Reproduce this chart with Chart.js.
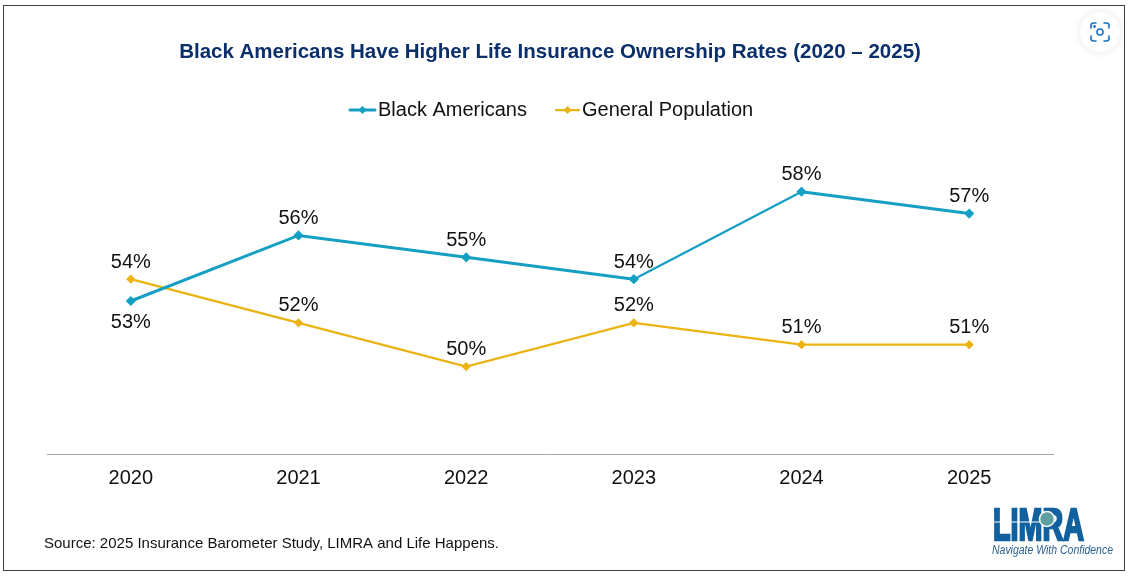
<!DOCTYPE html>
<html><head><meta charset="utf-8">
<style>
html,body{margin:0;padding:0;background:#fff;overflow:hidden}
#wrap{position:relative;width:1128px;height:576px}
#c{position:absolute;left:0;top:0}
#frame{position:absolute;left:3px;top:5px;width:1120px;height:564px;border:1px solid #3c4248;box-sizing:content-box;pointer-events:none}
#lens{position:absolute;left:1080px;top:12px;width:40px;height:40px;border-radius:50%;background:#fff;box-shadow:0 0 8px rgba(0,0,0,.10)}
#logo{position:absolute;left:985px;top:500px}
</style></head>
<body><div id="wrap">
<canvas id="c" width="1128" height="576"></canvas>
<div id="frame"></div>
<div id="lens"><svg width="40" height="40" viewBox="0 0 40 40" fill="none" stroke="#1a6fc4" stroke-width="1.6" stroke-linecap="round">
<path d="M11 16v-2.500a2.500 2.500 0 0 1 2.500-2.500H16M24 11h2.500a2.500 2.500 0 0 1 2.500 2.500V16M29 24v2.500a2.500 2.500 0 0 1-2.500 2.500H24M16 29h-2.500a2.500 2.500 0 0 1-2.500-2.500V24"/>
<circle cx="20" cy="20" r="3"/><circle cx="14.500" cy="14.500" r=".6" fill="#1a6fc4"/></svg></div>
<svg id="logo" width="135" height="66" viewBox="0 0 135 66">
<text x="8" y="39.500" font-family="Liberation Sans" font-weight="bold" font-size="44" fill="#11619f" stroke="#11619f" stroke-width="2.4" textLength="91" lengthAdjust="spacingAndGlyphs">LIMRA</text>
<rect x="7" y="21.500" width="50" height="1" fill="#fff"/>
<circle cx="62" cy="19" r="7.500" fill="#5f9f9f" stroke="#fff" stroke-width="1.500"/>
<text x="7" y="54" font-family="Liberation Sans" font-style="italic" font-size="12" fill="#2a5f8f" textLength="121" lengthAdjust="spacingAndGlyphs">Navigate With Confidence</text>
</svg>
</div>
<script src="https://cdn.jsdelivr.net/npm/chart.js@4"></script>
<script>
const categories = ["2020","2021","2022","2023","2024","2025"];
const blackAmericans = [53,56,55,54,58,57];
const generalPopulation = [54,52,50,52,51,51];
const blackLabelBelow = [true,false,false,false,false,false];
const chartTitle = "Black Americans Have Higher Life Insurance Ownership Rates (2020 \u2013 2025)";
const sourceNote = "Source: 2025 Insurance Barometer Study, LIMRA and Life Happens.";
const FONT = "'Liberation Sans', Arial, sans-serif";
const BLUE = "#159fc3", GOLD = "#ebb311";

const extras = {
  id: "extras",
  afterDatasetsDraw(chart) {
    const ctx = chart.ctx;
    ctx.save();
    // data labels
    ctx.font = "20px " + FONT; ctx.fillStyle = "#111"; ctx.textAlign = "center"; ctx.textBaseline = "middle";
    chart.data.datasets.forEach((ds, di) => {
      chart.getDatasetMeta(di).data.forEach((pt, i) => {
        const below = di === 0 && blackLabelBelow[i];
        ctx.fillText(ds.data[i] + "%", pt.x, pt.y + (below ? 21 : -17));
      });
    });
    // legend
    const items = [[350, 375, 378], [556, 579, 582]];
    const y = 110;
    chart.data.datasets.forEach((ds, di) => {
      const [a, b, t] = items[di];
      ctx.strokeStyle = ds.borderColor; ctx.lineWidth = ds.borderWidth; ctx.lineCap = "round";
      ctx.beginPath(); ctx.moveTo(a, y); ctx.lineTo(b, y); ctx.stroke();
      const m = (a + b) / 2;
      ctx.fillStyle = ds.borderColor;
      ctx.beginPath(); ctx.moveTo(m - 4, y); ctx.lineTo(m, y - 4); ctx.lineTo(m + 4, y); ctx.lineTo(m, y + 4); ctx.closePath(); ctx.fill();
      ctx.fillStyle = "#111"; ctx.textAlign = "left"; ctx.font = "20px " + FONT;
      ctx.fillText(ds.label, t, y);
    });
    // source
    ctx.font = "15px " + FONT; ctx.fillStyle = "#111"; ctx.textAlign = "left";
    ctx.fillText(sourceNote, 44, 544);
    ctx.restore();
  }
};

new Chart(document.getElementById("c"), {
  type: "line",
  data: {
    labels: categories,
    datasets: [
      { label: "Black Americans", data: blackAmericans, borderColor: BLUE, backgroundColor: BLUE, borderWidth: 3,
        pointStyle: "rectRot", pointRadius: 3, pointHoverRadius: 3, tension: 0,
        segment: { borderWidth: c => c.p0DataIndex === 3 ? 2.25 : 3 } },
      { label: "General Population", data: generalPopulation, borderColor: GOLD, backgroundColor: GOLD, borderWidth: 2.25,
        pointStyle: "rectRot", pointRadius: 3, pointHoverRadius: 3, tension: 0 }
    ]
  },
  options: {
    responsive: false, animation: false,
    layout: { padding: { left: 47, right: 75, top: 0, bottom: 0 } },
    plugins: {
      legend: { display: false }, tooltip: { enabled: false },
      title: { display: true, text: chartTitle, color: "#0b2f6b", font: { family: FONT, size: 20.5, weight: "bold", lineHeight: 1.2 }, padding: { top: 40, bottom: 83.400 } }
    },
    scales: {
      y: { display: false, min: 46, max: 60 },
      x: {
        offset: true,
        afterFit(s) { s.height = 122; },
        grid: { display: false, offset: true },
        border: { color: "#a6a6a6", width: 1 },
        ticks: { color: "#111", font: { family: FONT, size: 20 }, padding: 4, maxRotation: 0 }
      }
    }
  },
  plugins: [extras]
});
</script>
</body></html>
